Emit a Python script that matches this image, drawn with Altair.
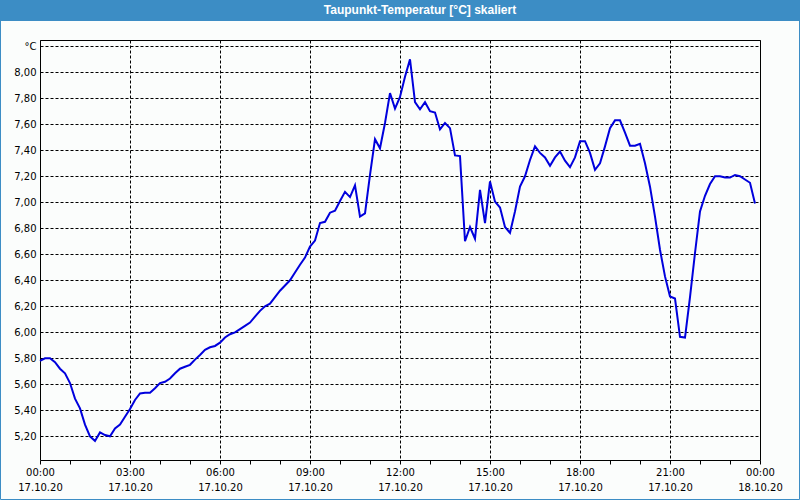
import json
import altair as alt
import pandas as pd

# time of measurement, minutes after 17.10.20 00:00
minutes = [
    0, 10, 20, 30, 40, 50, 60, 70, 80, 90, 100, 110,
    120, 130, 140, 150, 160, 170, 180, 190, 200, 210, 220, 230,
    240, 250, 260, 270, 280, 290, 300, 310, 320, 330, 340, 350,
    360, 370, 380, 390, 400, 410, 420, 430, 440, 450, 460, 470,
    480, 490, 500, 510, 520, 530, 540, 550, 560, 570, 580, 590,
    600, 610, 620, 630, 640, 650, 660, 670, 680, 690, 700, 710,
    720, 730, 740, 750, 760, 770, 780, 790, 800, 810, 820, 830,
    840, 850, 860, 870, 880, 890, 900, 910, 920, 930, 940, 950,
    960, 970, 980, 990, 1000, 1010, 1020, 1030, 1040, 1050, 1060, 1070,
    1080, 1090, 1100, 1110, 1120, 1130, 1140, 1150, 1160, 1170, 1180, 1190,
    1200, 1210, 1220, 1230, 1240, 1250, 1260, 1270, 1280, 1290, 1300, 1310,
    1320, 1330, 1340, 1350, 1360, 1370, 1380, 1390, 1400, 1410, 1420, 1430,
]

# dew point temperature in °C
dewpoint = [
    5.78, 5.80, 5.80, 5.77, 5.72, 5.685, 5.61, 5.49, 5.415, 5.29, 5.20, 5.165,
    5.23, 5.21, 5.20, 5.26, 5.29, 5.35, 5.41, 5.48, 5.53, 5.535, 5.535, 5.57,
    5.61, 5.62, 5.645, 5.685, 5.72, 5.735, 5.75, 5.79, 5.825, 5.865, 5.885, 5.895,
    5.92, 5.96, 5.985, 6.00, 6.025, 6.05, 6.075, 6.12, 6.165, 6.20, 6.22, 6.27,
    6.32, 6.36, 6.40, 6.46, 6.52, 6.575, 6.66, 6.705, 6.84, 6.85, 6.92, 6.935,
    7.01, 7.08, 7.04, 7.13, 6.89, 6.915, 7.21, 7.485, 7.415, 7.61, 7.84, 7.72,
    7.81, 7.965, 8.10, 7.77, 7.715, 7.77, 7.70, 7.69, 7.56, 7.61, 7.57, 7.36,
    7.355, 6.70, 6.81, 6.72, 7.095, 6.84, 7.16, 7.005, 6.96, 6.81, 6.765, 6.93,
    7.12, 7.20, 7.325, 7.43, 7.38, 7.345, 7.28, 7.345, 7.39, 7.32, 7.27, 7.345,
    7.47, 7.47, 7.38, 7.25, 7.30, 7.43, 7.57, 7.63, 7.63, 7.535, 7.435, 7.435,
    7.45, 7.30, 7.12, 6.89, 6.635, 6.43, 6.275, 6.26, 5.965, 5.96, 6.27, 6.61,
    6.93, 7.05, 7.14, 7.20, 7.20, 7.19, 7.19, 7.21, 7.20, 7.175, 7.15, 6.99,
]

# axis labels
x_tick_times = ["00:00", "03:00", "06:00", "09:00", "12:00", "15:00", "18:00", "21:00", "00:00"]
x_tick_dates = ["17.10.20", "17.10.20", "17.10.20", "17.10.20", "17.10.20",
                "17.10.20", "17.10.20", "17.10.20", "18.10.20"]
y_tick_values = [5.2, 5.4, 5.6, 5.8, 6.0, 6.2, 6.4, 6.6, 6.8, 7.0, 7.2, 7.4, 7.6, 7.8, 8.0, 8.2]
unit_label = "°C"
title_text = "Taupunkt-Temperatur [°C] skaliert"

df = pd.DataFrame({"minute": minutes, "dew": dewpoint})

BLUE_FRAME = "#3c8dc5"
LINE_BLUE = "#0000dd"
BG = "#fbfdfc"

hour_ticks = list(range(0, 1441, 60))

x_label_expr = (
    "datum.value % 180 === 0 ? ["
    + json.dumps(x_tick_times) + "[round(datum.value / 180)], "
    + json.dumps(x_tick_dates) + "[round(datum.value / 180)]] : ''"
)
y_label_expr = (
    "datum.value > 8.1 ? " + json.dumps(unit_label)
    + " : replace(format(datum.value, '.2f'), '.', ',')"
)

line = alt.Chart(df).mark_line(color=LINE_BLUE, strokeWidth=2).encode(
    x=alt.X(
        "minute:Q",
        scale=alt.Scale(domain=[0, 1440], nice=False, zero=False),
        axis=alt.Axis(
            values=hour_ticks,
            labelExpr=x_label_expr,
            grid=True,
            gridColor="black",
            gridDash=[3, 2],
            gridWidth=1,
            gridOpacity={"condition": {"test": "datum.value % 180 === 0", "value": 1}, "value": 0},
            ticks=True,
            tickSize=4,
            tickColor="black",
            domain=False,
            labelFont="DejaVu Sans",
            labelFontSize=10,
            labelColor="black",
            labelLineHeight=15,
            labelPadding=3,
            labelOverlap=False,
            labelFlush=False,
            labelBound=False,
            title=None,
        ),
    ),
    y=alt.Y(
        "dew:Q",
        scale=alt.Scale(domain=[5.018, 8.248], nice=False, zero=False),
        axis=alt.Axis(
            values=y_tick_values,
            labelExpr=y_label_expr,
            grid=True,
            gridColor="black",
            gridDash=[3, 2],
            gridWidth=1,
            ticks=False,
            domain=False,
            labelFont="DejaVu Sans",
            labelFontSize=10,
            labelColor="black",
            labelPadding=4,
            labelOverlap=False,
            labelFlush=False,
            labelBound=False,
            title=None,
        ),
    ),
)

deco = pd.DataFrame({"k": [0]})

title_bar = alt.Chart(deco).mark_rect(color=BLUE_FRAME).encode(
    x=alt.value(-40), x2=alt.value(760), y=alt.value(-40), y2=alt.value(-19)
)
border = alt.Chart(deco).mark_rect(fillOpacity=0, stroke=BLUE_FRAME, strokeWidth=1).encode(
    x=alt.value(-39.5), x2=alt.value(759.5), y=alt.value(-39.5), y2=alt.value(459.5)
)

chart = alt.layer(title_bar, border, line).properties(
    width=720,
    height=420,
    autosize=alt.AutoSizeParams(type="none"),
    padding={"left": 40, "top": 40, "right": 40, "bottom": 40},
    background=BG,
    title=alt.TitleParams(
        text=title_text,
        color="white",
        font="Liberation Sans",
        fontSize=12,
        fontWeight="bold",
        anchor="middle",
        frame="group",
        baseline="middle",
        offset=-22,
        dx=20,
    ),
).configure_view(stroke="black", strokeWidth=1, fill=BG)

chart.save("out.html", embed_options={"renderer": "svg", "actions": False})
